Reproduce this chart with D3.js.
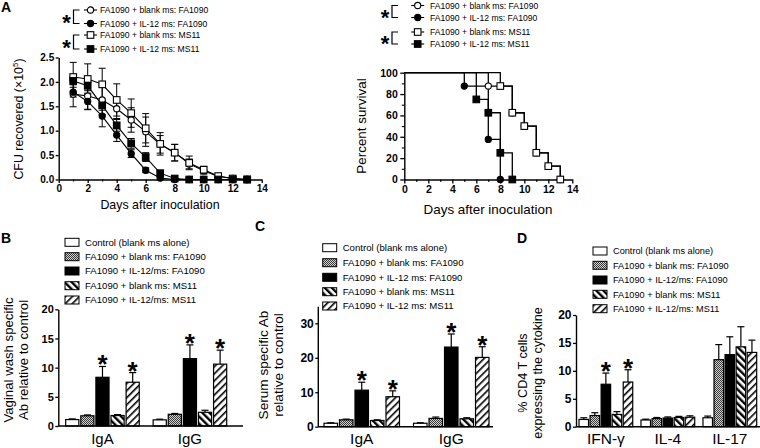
<!DOCTYPE html>
<html><head><meta charset="utf-8">
<script src="https://cdn.jsdelivr.net/npm/d3@7"></script>
<style>
html,body{margin:0;padding:0;background:#fff;}
svg{display:block;font-family:Arial,"Liberation Sans",sans-serif;}
</style></head><body>
<svg id="c" width="760" height="448"></svg>
<script>
// ---------------- DATA ----------------
const days = [1,2,3,4,5,6,7,8,9,10,11,12,13];
const cfuBlankFA    = [1.75,1.71,1.63,1.45,1.22,0.98,0.72,0.55,0.32,0.18,0.06,0.02,0.00];
const cfuBlankFAErr = [0.26,0.27,0.30,0.20,0.25,0.30,0.18,0.17,0.10,0.07,0.03,0.02,0.00];
const cfuIL12FA     = [1.79,1.60,1.30,0.91,0.53,0.19,0.03,0.00,0.00,0.00,0.00,0.00,0.00];
const cfuIL12FAErr  = [0.10,0.17,0.22,0.13,0.08,0.05,0.02,0.00,0.00,0.00,0.00,0.00,0.00];
const cfuBlankMS    = [2.10,2.06,1.95,1.63,1.36,1.05,0.73,0.55,0.34,0.20,0.07,0.02,0.00];
const cfuBlankMSErr = [0.30,0.31,0.33,0.33,0.29,0.30,0.23,0.17,0.14,0.07,0.03,0.02,0.00];
const cfuIL12MS     = [2.02,1.92,1.52,1.11,0.74,0.46,0.13,0.02,0.00,0.00,0.00,0.00,0.00];
const cfuIL12MSErr  = [0.08,0.10,0.10,0.12,0.10,0.09,0.04,0.01,0.00,0.00,0.00,0.00,0.00];

// survival: [day, percent]
const survBlankFA = [[0,100],[7,87.5],[9,62.5],[10,50],[11,25],[12,12.5],[13,0]];
const survIL12FA  = [[0,100],[5,87.5],[7,37.5],[8,0]];
const survBlankMS = [[0,100],[8,87.5],[9,62.5],[10,50],[11,25],[12,12.5],[13,0]];
const survIL12MS  = [[0,100],[6,75],[7,62.5],[8,25],[9,0]];

const legendA = ["FA1090 + blank ms: FA1090","FA1090 + IL-12 ms: FA1090","FA1090 + blank ms: MS11","FA1090 + IL-12 ms: MS11"];

const cfuTicksY = [0,0.5,1.0,1.5,2.0,2.5];
const dayTicks = [0,2,4,6,8,10,12,14];
const dayMinor = [1,3,5,7,9,11,13];
const survTicks = [0,20,40,60,80,100];
const survMinor = [10,30,50,70,90];

const legendB = ["Control (blank ms alone)","FA1090 + blank ms: FA1090","FA1090 + IL-12/ms: FA1090","FA1090 + blank ms: MS11","FA1090 + IL-12/ms: MS11"];
const legendC = ["Control (blank ms alone)","FA1090 + blank ms: FA1090","FA1090 + IL-12 ms: FA1090","FA1090 + blank ms: MS11","FA1090 + IL-12 ms: MS11"];
const legendD = legendB;

const abCats = ["IgA","IgG"];
const vagIgA    = [1.10,1.75,8.35,1.80,7.50];
const vagIgAErr = [0.12,0.15,1.85,0.15,1.65];
const vagIgG    = [1.05,2.00,11.55,2.35,10.60];
const vagIgGErr = [0.12,0.15,2.35,0.35,2.40];
const vagStars  = [[2,4],[2,4]];

const serIgA    = [1.00,2.00,10.60,1.80,8.70];
const serIgAErr = [0.15,0.20,2.30,0.20,1.70];
const serIgG    = [1.00,2.40,23.10,2.30,20.10];
const serIgGErr = [0.15,0.40,3.80,0.30,3.10];
const serStars  = [[2,4],[2,4]];

const cytCats = ["IFN-γ","IL-4","IL-17"];
const cdIFN    = [1.30,2.00,7.60,2.20,8.00];
const cdIFNErr = [0.30,0.50,2.00,0.50,2.20];
const cdIL4    = [1.20,1.45,1.55,1.65,1.70];
const cdIL4Err = [0.15,0.20,0.20,0.20,0.25];
const cdIL17   = [1.60,12.00,12.90,14.30,13.30];
const cdIL17Err= [0.30,2.70,3.20,3.60,2.20];
const cdStars  = [[2,4],[],[]];

const ticksB = [0,5,10,15,20];
const ticksC = [0,10,20,30];
const ticksD = [0,5,10,15,20];

// ---------------- SETUP ----------------
const FONT = 'Arial,"Liberation Sans",sans-serif';
const svg = d3.select("#c");
svg.append("rect").attr("width",760).attr("height",448).attr("fill","#fff");
const defs = svg.append("defs");

// patterns
const pCheck = defs.append("pattern").attr("id","pCheck").attr("patternUnits","userSpaceOnUse").attr("width",2).attr("height",2);
pCheck.append("rect").attr("width",2).attr("height",2).attr("fill","#d0d0d0");
pCheck.append("rect").attr("width",1).attr("height",1).attr("fill","#3a3a3a");
pCheck.append("rect").attr("x",1).attr("y",1).attr("width",1).attr("height",1).attr("fill","#3a3a3a");

function stripes(id, angle, period, w){
  const p = defs.append("pattern").attr("id",id).attr("patternUnits","userSpaceOnUse")
    .attr("width",period).attr("height",period).attr("patternTransform",`rotate(${angle})`);
  p.append("rect").attr("width",period).attr("height",period).attr("fill","#fff");
  p.append("rect").attr("width",w).attr("height",period).attr("fill","#000");
}
stripes("pBack",-45,5,2.4);
stripes("pFwd",45,5,1.6);
const barFills = ["#fff","url(#pCheck)","#000","url(#pBack)","url(#pFwd)"];

function styleAxis(g, fs){
  g.attr("font-family",FONT);
  g.select(".domain").attr("stroke","#000").attr("stroke-width",1.4);
  g.selectAll(".tick line").attr("stroke","#000").attr("stroke-width",1.3);
  g.selectAll(".tick text").attr("font-size",fs).attr("font-weight","bold").attr("fill","#000");
}
function txt(x,y,s,fs,opts={}){
  const t = svg.append("text").attr("x",x).attr("y",y).attr("font-size",fs)
    .attr("font-family",FONT).attr("fill","#000").text(s);
  if(opts.anchor) t.attr("text-anchor",opts.anchor);
  if(opts.bold) t.attr("font-weight","bold");
  if(opts.rot) t.attr("transform",`rotate(-90,${x},${y})`);
  return t;
}
function marker(g, shape, filled, x, y){
  if(shape==="circle"){
    g.append("circle").attr("cx",x).attr("cy",y).attr("r",3.1)
      .attr("fill",filled?"#000":"#fff").attr("stroke","#000").attr("stroke-width",1.1);
  } else {
    g.append("rect").attr("x",x-3.3).attr("y",y-3.3).attr("width",6.6).attr("height",6.6)
      .attr("fill",filled?"#000":"#fff").attr("stroke","#000").attr("stroke-width",1.1);
  }
}
const seriesStyle = [
  {shape:"circle",filled:false},{shape:"circle",filled:true},
  {shape:"square",filled:false},{shape:"square",filled:true}];

// panel labels
txt(1,12,"A",14,{bold:true});
txt(1,243,"B",14,{bold:true});
txt(255,231,"C",14,{bold:true});
txt(517,243,"D",14,{bold:true});

// ---------------- PANEL A: CFU ----------------
{
  const x = d3.scaleLinear().domain([0,14]).range([58.7,261.7]);
  const y = d3.scaleLinear().domain([0,2.5]).range([179.5,57.5]);
  const gy = svg.append("g").attr("transform",`translate(${x(0)},0)`)
    .call(d3.axisLeft(y).tickValues(cfuTicksY).tickFormat(d3.format(".1f")).tickSize(3).tickSizeOuter(0).tickPadding(1.5));
  styleAxis(gy,10);
  const gx = svg.append("g").attr("transform",`translate(0,${y(0)})`)
    .call(d3.axisBottom(x).tickValues(dayTicks).tickFormat(d3.format("d")).tickSize(3.5).tickSizeOuter(0).tickPadding(1.5));
  styleAxis(gx,10);
  const gm = svg.append("g").attr("transform",`translate(0,${y(0)})`)
    .call(d3.axisBottom(x).tickValues(dayMinor).tickFormat("").tickSize(2).tickSizeOuter(0));
  gm.select(".domain").remove();
  gm.selectAll(".tick line").attr("stroke","#000").attr("stroke-width",1.1);

  const series = [
    {v:cfuBlankFA,e:cfuBlankFAErr},{v:cfuIL12FA,e:cfuIL12FAErr},
    {v:cfuBlankMS,e:cfuBlankMSErr},{v:cfuIL12MS,e:cfuIL12MSErr}];
  const line = d3.line().x(d=>x(d[0])).y(d=>y(d[1]));
  const gL = svg.append("g");
  series.forEach(s=>{
    gL.append("path").attr("d",line(days.map((d,i)=>[d,s.v[i]])))
      .attr("fill","none").attr("stroke","#000").attr("stroke-width",1.1);
  });
  const gE = svg.append("g").attr("stroke","#000").attr("stroke-width",1);
  series.forEach(s=>{
    days.forEach((d,i)=>{
      if(s.e[i]<=0) return;
      const xx=x(d), y1=y(s.v[i]+s.e[i]), y2=y(Math.max(0,s.v[i]-s.e[i]));
      gE.append("line").attr("x1",xx).attr("x2",xx).attr("y1",y1).attr("y2",y2);
      gE.append("line").attr("x1",xx-3.5).attr("x2",xx+3.5).attr("y1",y1).attr("y2",y1);
      gE.append("line").attr("x1",xx-3.5).attr("x2",xx+3.5).attr("y1",y2).attr("y2",y2);
    });
  });
  const gM = svg.append("g");
  series.forEach((s,k)=>{
    days.forEach((d,i)=>marker(gM,seriesStyle[k].shape,seriesStyle[k].filled,x(d),y(s.v[i])));
  });
  txt(160,209,"Days after inoculation",12.4,{anchor:"middle"});
  const yl = svg.append("text").attr("transform","translate(23,119) rotate(-90)")
    .attr("text-anchor","middle").attr("font-size",12.4).attr("font-family",FONT);
  yl.append("tspan").text("CFU recovered (×10");
  yl.append("tspan").text("5").attr("font-size",8).attr("dy",-5);
  yl.append("tspan").text(")").attr("dy",5);
}

// ---------------- PANEL A: survival ----------------
{
  const x = d3.scaleLinear().domain([0,14]).range([404.3,572.3]);
  const y = d3.scaleLinear().domain([0,100]).range([179.5,72.7]);
  const gy = svg.append("g").attr("transform",`translate(${x(0)},0)`)
    .call(d3.axisLeft(y).tickValues(survTicks).tickSize(4).tickSizeOuter(0).tickPadding(2.5));
  styleAxis(gy,10.5);
  const gym = svg.append("g").attr("transform",`translate(${x(0)},0)`)
    .call(d3.axisLeft(y).tickValues(survMinor).tickFormat("").tickSize(2.5).tickSizeOuter(0));
  gym.select(".domain").remove(); gym.selectAll(".tick line").attr("stroke","#000").attr("stroke-width",1.1);
  const gx = svg.append("g").attr("transform",`translate(0,${y(0)})`)
    .call(d3.axisBottom(x).tickValues(dayTicks).tickSize(4).tickSizeOuter(0).tickPadding(2.5));
  styleAxis(gx,10.5);
  const gxm = svg.append("g").attr("transform",`translate(0,${y(0)})`)
    .call(d3.axisBottom(x).tickValues(dayMinor).tickFormat("").tickSize(2.5).tickSizeOuter(0));
  gxm.select(".domain").remove(); gxm.selectAll(".tick line").attr("stroke","#000").attr("stroke-width",1.1);

  const survs = [survBlankFA,survIL12FA,survBlankMS,survIL12MS];
  const step = d3.line().x(d=>x(d[0])).y(d=>y(d[1])).curve(d3.curveStepAfter);
  survs.forEach(s=>{
    svg.append("path").attr("d",step(s)).attr("fill","none").attr("stroke","#000").attr("stroke-width",1.3);
  });
  const gM = svg.append("g");
  survs.forEach((s,k)=>{
    s.slice(1).forEach(p=>marker(gM,seriesStyle[k].shape,seriesStyle[k].filled,x(p[0]),y(p[1])));
  });
  txt(488,214,"Days after inoculation",13.4,{anchor:"middle"});
  txt(366,126,"Percent survival",13.4,{anchor:"middle",rot:true});
}

// ---------------- PANEL A legends ----------------
function lineLegend(rows, mx, tx, bx, sx, fs){
  const g = svg.append("g");
  rows.forEach((ry,k)=>{
    g.append("line").attr("x1",mx-6.5).attr("x2",mx+6.5).attr("y1",ry).attr("y2",ry).attr("stroke","#000").attr("stroke-width",1.1);
    marker(g,seriesStyle[k].shape,seriesStyle[k].filled,mx,ry);
    txt(tx,ry,legendA[k],fs).attr("dy","0.35em");
  });
  [[0,1],[2,3]].forEach(([a,b])=>{
    g.append("path").attr("d",`M${bx+6},${rows[a]}H${bx}V${rows[b]}H${bx+6}`)
      .attr("fill","none").attr("stroke","#000").attr("stroke-width",1.2);
    txt(sx,(rows[a]+rows[b])/2+13,"*",22,{anchor:"middle",bold:true});
  });
}
lineLegend([10,23.5,35,49],90.5,100,73.5,66.5,8.6);
lineLegend([5.5,17.5,32,44],417.7,430,392,385,8.6);

// ---------------- BAR PANELS ----------------
function barPanel(cfg){
  const y = d3.scaleLinear().domain([0,cfg.ymax]).range([cfg.y0,cfg.yTop]);
  const xg = d3.scaleBand().domain(cfg.cats).range(cfg.groupRange).paddingInner(cfg.padG).paddingOuter(0);
  const xb = d3.scaleBand().domain(d3.range(5)).range([0,xg.bandwidth()]).paddingInner(cfg.padB);
  const g = svg.append("g");
  cfg.cats.forEach((c,ci)=>{
    const vals = cfg.vals[ci], errs = cfg.errs[ci];
    vals.forEach((v,i)=>{
      const bx = xg(c)+xb(i), bw = xb.bandwidth();
      g.append("rect").attr("x",bx).attr("y",y(v)).attr("width",bw).attr("height",y(0)-y(v))
        .attr("fill",barFills[i]).attr("stroke","#000").attr("stroke-width",1.2);
      const cx = bx+bw/2, yt = y(v+errs[i]);
      g.append("line").attr("x1",cx).attr("x2",cx).attr("y1",y(v)).attr("y2",yt).attr("stroke","#000").attr("stroke-width",1.2);
      g.append("line").attr("x1",cx-3.5).attr("x2",cx+3.5).attr("y1",yt).attr("y2",yt).attr("stroke","#000").attr("stroke-width",1.2);
      if(cfg.stars[ci].includes(i)){
        txt(cx,yt+7,"*",cfg.starSize,{anchor:"middle",bold:true});
      }
    });
    txt(xg(c)+xg.bandwidth()/2,cfg.catY,c,cfg.catFs,{anchor:"middle"});
  });
  const gy = svg.append("g").attr("transform",`translate(${cfg.ax},0)`)
    .call(d3.axisLeft(y).tickValues(cfg.ticks).tickSize(3).tickSizeOuter(0).tickPadding(1.5));
  if(cfg.axTop) gy.select(".domain").attr("d",`M0,${cfg.axTop}V${cfg.y0}`);
  styleAxis(gy,cfg.tickFs);
  svg.append("line").attr("x1",cfg.ax).attr("x2",cfg.axEnd).attr("y1",cfg.y0).attr("y2",cfg.y0)
    .attr("stroke","#000").attr("stroke-width",1.4);
  // legend
  cfg.legRows.forEach((ry,i)=>{
    svg.append("rect").attr("x",cfg.legX).attr("y",ry-4).attr("width",14).attr("height",8)
      .attr("fill",barFills[i]).attr("stroke","#000").attr("stroke-width",1);
    txt(cfg.legX+20,ry,cfg.legend[i],cfg.legFs).attr("dy","0.35em");
  });
  // y title
  const t = svg.append("text").attr("transform",`translate(${cfg.ylX},${cfg.ylY}) rotate(-90)`)
    .attr("text-anchor","middle").attr("font-size",cfg.ylFs).attr("font-family",FONT);
  cfg.ylabel.forEach((s,i)=>t.append("tspan").attr("x",0).attr("dy",i?cfg.ylGap:0).text(s));
}

barPanel({cats:abCats, vals:[vagIgA,vagIgG], errs:[vagIgAErr,vagIgGErr], stars:vagStars,
  ymax:20, y0:426, yTop:309.3, groupRange:[65.7,226.7], padG:0.159, padB:0.13,
  ax:58.3, axEnd:243, ticks:ticksB, tickFs:11, starSize:26, catY:444, catFs:15,
  legRows:[242.3,256.7,271,285.7,300], legX:65, legend:legendB, legFs:9.6,
  ylabel:["Vaginal wash specific","Ab relative to control"], ylX:13, ylY:360, ylFs:13.2, ylGap:15});

barPanel({cats:abCats, vals:[serIgA,serIgG], errs:[serIgAErr,serIgGErr], stars:serStars,
  ymax:30, y0:426.7, yTop:323.3, axTop:306.7, groupRange:[324,489], padG:0.157, padB:0.13,
  ax:318.3, axEnd:493, ticks:ticksC, tickFs:12, starSize:26, catY:444, catFs:15.5,
  legRows:[247.7,262.7,277.3,291.7,306], legX:322.7, legend:legendC, legFs:9.6,
  ylabel:["Serum specific Ab","relative to control"], ylX:268, ylY:365, ylFs:13.6, ylGap:15});

barPanel({cats:cytCats, vals:[cdIFN,cdIL4,cdIL17], errs:[cdIFNErr,cdIL4Err,cdIL17Err], stars:cdStars,
  ymax:20, y0:426.7, yTop:315, groupRange:[579,756.7], padG:0.133, padB:0.14,
  ax:576, axEnd:760, ticks:ticksD, tickFs:12, starSize:26, catY:444, catFs:15.5,
  legRows:[251,265.3,280,294.3,308.7], legX:593, legend:legendD, legFs:9.2,
  ylabel:["% CD4 T cells","expressing the cytokine"], ylX:527, ylY:373, ylFs:12.6, ylGap:15});
</script>
</body></html>
